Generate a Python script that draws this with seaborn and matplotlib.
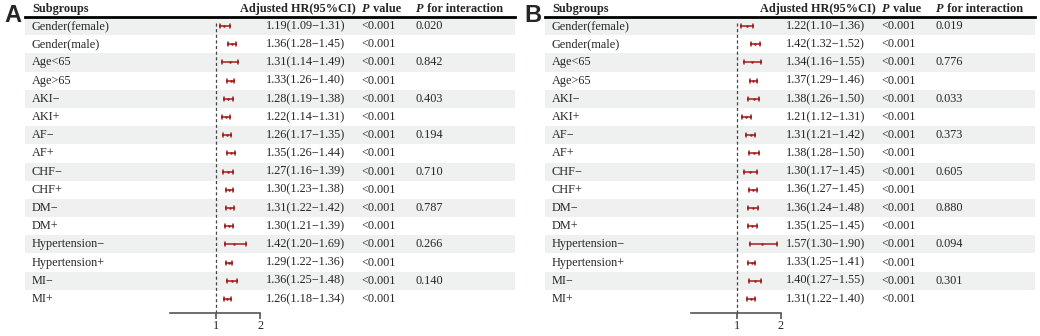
import matplotlib
matplotlib.use("Agg")
import matplotlib.pyplot as plt
import pandas as pd
import seaborn as sns
import numpy as np

subgroups = ["Gender(female)", "Gender(male)", "Age<65", "Age>65", "AKI\u2212", "AKI+",
             "AF\u2212", "AF+", "CHF\u2212", "CHF+", "DM\u2212", "DM+",
             "Hypertension\u2212", "Hypertension+", "MI\u2212", "MI+"]

hr_a = [1.19, 1.36, 1.31, 1.33, 1.28, 1.22, 1.26, 1.35, 1.27, 1.30, 1.31, 1.30, 1.42, 1.29, 1.36, 1.26]
lo_a = [1.09, 1.28, 1.14, 1.26, 1.19, 1.14, 1.17, 1.26, 1.16, 1.23, 1.22, 1.21, 1.20, 1.22, 1.25, 1.18]
hi_a = [1.31, 1.45, 1.49, 1.40, 1.38, 1.31, 1.35, 1.44, 1.39, 1.38, 1.42, 1.39, 1.69, 1.36, 1.48, 1.34]
pint_a = ["0.020", "", "0.842", "", "0.403", "", "0.194", "", "0.710", "", "0.787", "", "0.266", "", "0.140", ""]

hr_b = [1.22, 1.42, 1.34, 1.37, 1.38, 1.21, 1.31, 1.38, 1.30, 1.36, 1.36, 1.35, 1.57, 1.33, 1.40, 1.31]
lo_b = [1.10, 1.32, 1.16, 1.29, 1.26, 1.12, 1.21, 1.28, 1.17, 1.27, 1.24, 1.25, 1.30, 1.25, 1.27, 1.22]
hi_b = [1.36, 1.52, 1.55, 1.46, 1.50, 1.31, 1.42, 1.50, 1.45, 1.45, 1.48, 1.45, 1.90, 1.41, 1.55, 1.40]
pint_b = ["0.019", "", "0.776", "", "0.033", "", "0.373", "", "0.605", "", "0.880", "", "0.094", "", "0.301", ""]

pvals = ["<0.001"] * 16

sns.set_theme(style="white")
plt.rcParams["font.family"] = ["Liberation Serif", "DejaVu Serif"]

W, H = 1040, 336
fig = plt.figure(figsize=(W / 100, H / 100), dpi=100)

bar_color = "#a01e1e"
shade = "#eef1f0"
fs = 8.8
n = len(subgroups)
top_px, bot_px = 17, 308


def panel(off, letter, hr, lo, hi, pint):
    # table axes in panel-local pixel coords
    ax = fig.add_axes([(25 + off) / W, (H - bot_px) / H, 490 / W, (bot_px - top_px) / H])
    ax.set_xlim(25, 515)
    ax.set_ylim(n - 0.5, -0.5)
    ax.set_xticks([])
    ax.set_yticks([])
    for s in ["left", "right", "bottom"]:
        ax.spines[s].set_visible(False)
    ax.spines["top"].set_linewidth(2)
    ax.spines["top"].set_color("black")
    for i in range(0, n, 2):
        ax.axhspan(i - 0.5, i + 0.5, color=shade, lw=0, zorder=0)

    hy = -0.95
    ax.text(32, hy, "Subgroups", fontsize=fs, weight="bold", va="center")
    ax.text(240, hy, "Adjusted HR(95%CI)", fontsize=fs, weight="bold", va="center")
    p1 = ax.text(362, hy, "P", fontsize=fs, weight="bold", style="italic", va="center")
    ax.annotate(" value", xy=(1, 0), xycoords=p1, fontsize=fs, weight="bold", va="bottom")
    p2 = ax.text(416, hy, "P", fontsize=fs, weight="bold", style="italic", va="center")
    ax.annotate(" for interaction", xy=(1, 0), xycoords=p2, fontsize=fs, weight="bold", va="bottom")

    for i in range(n):
        ax.text(32, i, subgroups[i], fontsize=fs, va="center")
        ax.text(266, i, f"{hr[i]:.2f}({lo[i]:.2f}\u2212{hi[i]:.2f})", fontsize=fs, va="center")
        ax.text(361, i, pvals[i], fontsize=fs, va="center")
        ax.text(415, i, pint[i], fontsize=fs, va="center")

    fig.text((4 + off) / W, 1 - 15 / H, letter, fontsize=17, weight="bold",
             family="Liberation Sans", va="center", ha="left")

    # forest axes
    x0, x1 = 160 + off, 300 + off
    one = 216 + off + (1 if off else 0)
    ax_f = fig.add_axes([x0 / W, (H - bot_px) / H, (x1 - x0) / W, (bot_px - top_px) / H])
    ax_f.patch.set_alpha(0)
    df = pd.DataFrame({
        "sub": np.repeat(subgroups, 3),
        "val": np.column_stack([lo, hr, hi]).ravel(),
    })
    sns.pointplot(data=df, x="val", y="sub", order=subgroups, estimator="median",
                  errorbar=("pi", 100), color=bar_color, linestyle="none",
                  marker="o", markersize=1.8, markeredgewidth=0, capsize=0.22,
                  err_kws={"linewidth": 1.1}, ax=ax_f)
    ax_f.set_xlim(1 + (x0 - one) / 44, 1 + (x1 - one) / 44)
    ax_f.set_ylim(n - 0.5, -0.5)
    ax_f.set_yticks([])
    ax_f.set_xlabel("")
    ax_f.set_ylabel("")
    for s in ["left", "right", "top"]:
        ax_f.spines[s].set_visible(False)
    ax_f.spines["bottom"].set_position(("outward", 3.6))
    ax_f.spines["bottom"].set_bounds(-0.05, 2)
    ax_f.spines["bottom"].set_color("#555555")
    ax_f.spines["bottom"].set_linewidth(1.2)
    ax_f.set_xticks([1, 2])
    ax_f.set_xticklabels(["1", "2"], fontsize=fs)
    ax_f.tick_params(axis="x", bottom=True, direction="out", length=4, width=1.2,
                     color="#555555", pad=1)
    hpx = bot_px - top_px
    ax_f.axvline(1, ymin=-5 / hpx, ymax=1 - 4 / hpx, color="#444444", lw=0.9,
                 ls=(0, (2.5, 2)), clip_on=False, zorder=1)


panel(0, "A", hr_a, lo_a, hi_a, pint_a)
panel(520, "B", hr_b, lo_b, hi_b, pint_b)

fig.savefig("out.png", dpi=100)
